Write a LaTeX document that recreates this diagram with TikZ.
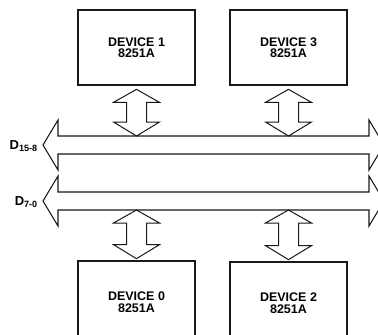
\documentclass[tikz,border=0pt]{standalone}
\usepackage{fontspec}
\setmainfont{Liberation Sans}
\usepackage{tikz}
\usetikzlibrary{calc, positioning}
\definecolor{inkblack}{RGB}{25, 25, 25}
\tikzset{
  device/.style={draw=inkblack, line width=2.7pt, rectangle, align=center,
    minimum width=117pt, minimum height=75pt, inner sep=0pt,
    font=\fontsize{12.5}{11.5}\selectfont\bfseries},
  bus/.style={draw=inkblack, line width=1.1pt, line join=miter},
  link/.style={draw=inkblack, line width=1pt, line join=miter},
  buslabel/.style={font=\fontsize{13}{13}\selectfont\bfseries, anchor=east, inner sep=0pt}
}
% block double arrow from a top point down to a bottom point
\newcommand{\vlink}[2]{%
  \draw[link] let \p1=#1, \p2=#2 in
    (\x1,\y1) -- (\x1-23pt,\y1-13pt) -- (\x1-10pt,\y1-13pt)
    -- (\x1-10pt,\y2+14pt) -- (\x1-23pt,\y2+14pt) -- (\x1,\y2)
    -- (\x1+23pt,\y2+14pt) -- (\x1+10pt,\y2+14pt)
    -- (\x1+10pt,\y1-13pt) -- (\x1+23pt,\y1-13pt) -- cycle;}
% bus drawn as a long double arrow with centre line y = #1
\newcommand{\busline}[1]{%
  \draw[bus] (43,#1) -- (58,#1-25) -- (58,#1-9) -- (369,#1-9) -- (369,#1-25)
    -- (384,#1) -- (369,#1+25) -- (369,#1+9) -- (58,#1+9) -- (58,#1+25) -- cycle;}
\begin{document}
\begin{tikzpicture}[x=1pt, y=-1pt]
  \useasboundingbox (0,0) rectangle (378,335);
  \clip (0,0) rectangle (378,335);
  % devices
  \node[device] (dev1) at (136.5,47.5) {DEVICE 1\\8251A};
  \node[device] (dev3) at (288.5,47.5) {DEVICE 3\\8251A};
  \node[device, minimum height=82pt] (dev0) at (136.5,302) {DEVICE 0\\8251A};
  \node[device, minimum height=82pt] (dev2) at (288.5,303) {DEVICE 2\\8251A};
  % data buses
  \busline{145}
  \busline{201}
  \coordinate (hiN) at (0,136);
  \coordinate (loS) at (0,210);
  \node[buslabel] (hilabel) at (38,146) {D\textsubscript{15-8}};
  \node[buslabel] (lolabel) at (38,202) {D\textsubscript{7-0}};
  % links to the buses
  \vlink{($(dev1.south)+(0,3)$)}{(dev1.south |- hiN)}
  \vlink{($(dev3.south)+(0,3)$)}{(dev3.south |- hiN)}
  \vlink{(dev0.north |- loS)}{($(dev0.north)+(0,-1)$)}
  \vlink{(dev2.north |- loS)}{($(dev2.north)+(0,-1)$)}
\end{tikzpicture}
\end{document}
